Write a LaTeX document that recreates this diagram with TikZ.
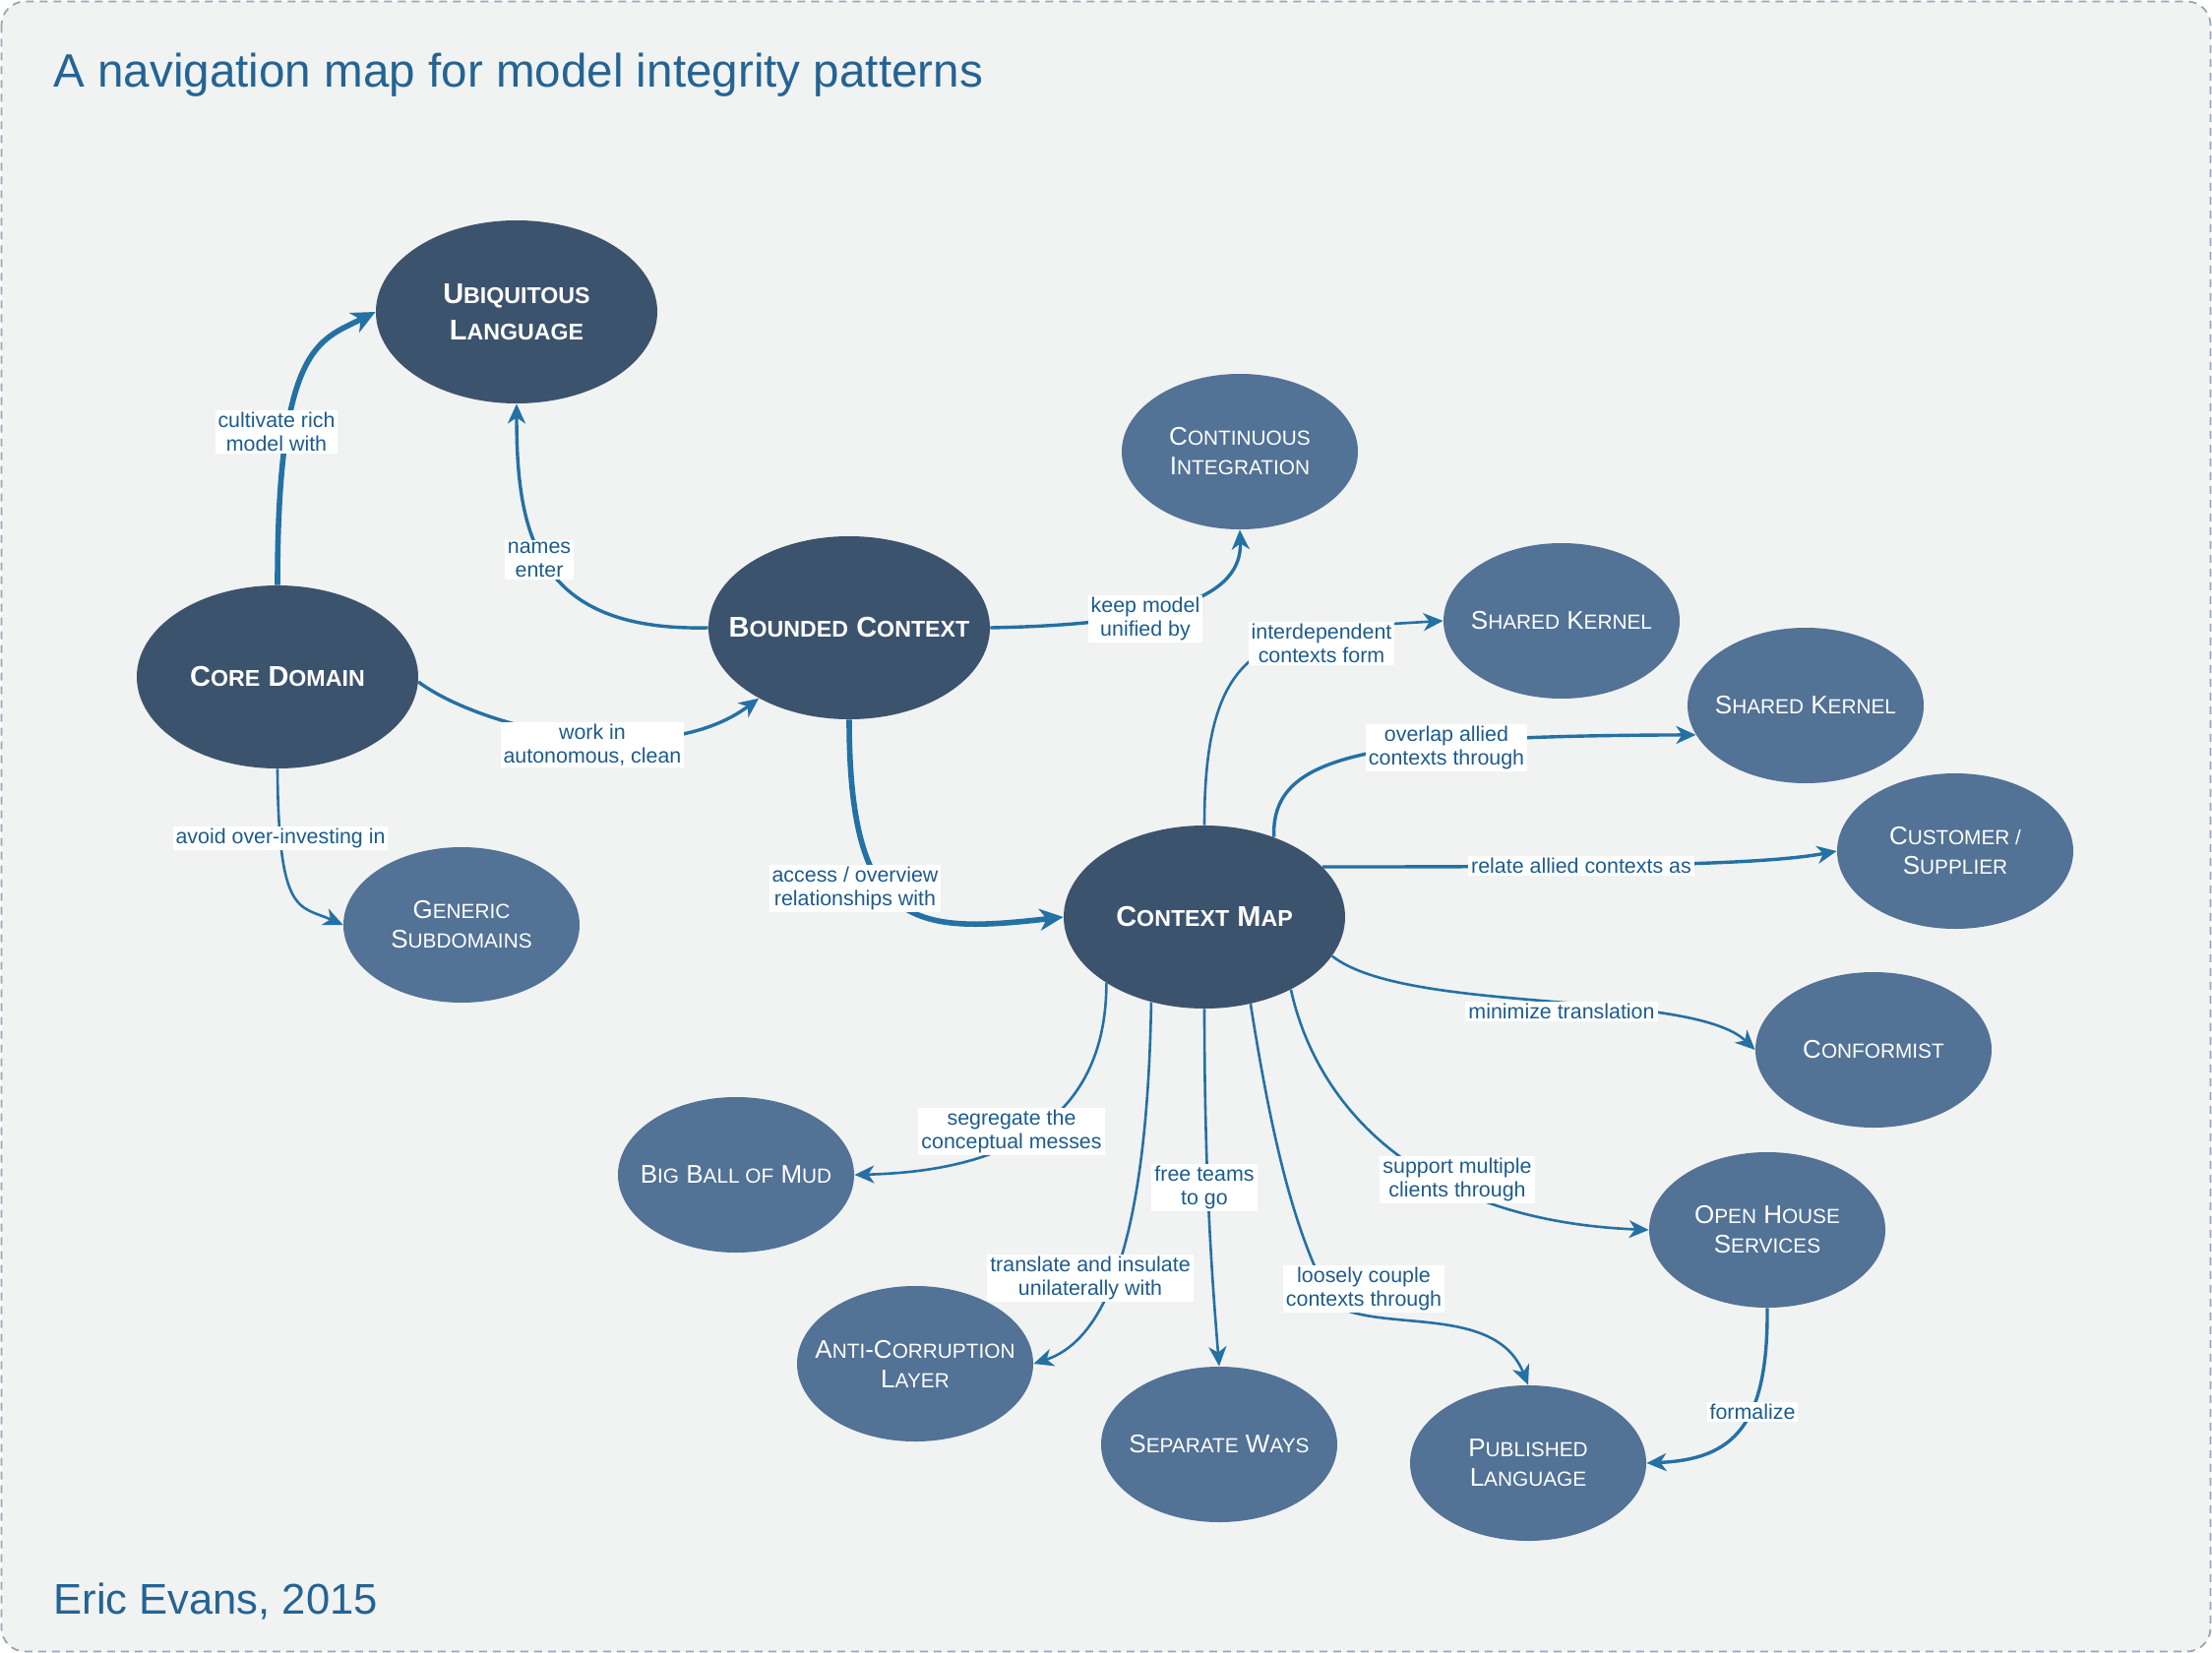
\documentclass[tikz,border=0pt]{standalone}
\usepackage{fontspec}
\setmainfont{Liberation Sans}
\usetikzlibrary{shapes.geometric,arrows.meta,calc}
\definecolor{bgc}{HTML}{F1F2F2}
\definecolor{bordc}{HTML}{9AA6B2}
\definecolor{darkn}{HTML}{3C536D}
\definecolor{lightn}{HTML}{527296}
\definecolor{edgec}{HTML}{2471A3}
\definecolor{lblc}{HTML}{1D5C8B}
\definecolor{titlec}{HTML}{236494}
\newcommand\dsc[1]{{\fontsize{11.6}{14}\selectfont #1}}
\newcommand\lsc[1]{{\fontsize{10.4}{12}\selectfont #1}}
\begin{document}
\begin{tikzpicture}[x=0.5pt,y=-0.5pt,
 darknode/.style={ellipse, fill=darkn, text=white, minimum width=143pt, minimum height=93pt, inner xsep=-30pt, inner ysep=-10pt, align=center, font=\bfseries\fontsize{14.5}{18.6}\selectfont},
 lightnode/.style={ellipse, fill=lightn, text=white, minimum width=120pt, minimum height=79pt, inner xsep=-30pt, inner ysep=-10pt, align=center, font=\fontsize{13}{15}\selectfont},
 conn/.style={draw=edgec, line width=1.3pt, -{Stealth[length=10pt,width=9pt,inset=3pt]}},
 medconn/.style={conn, line width=1.7pt},
 thickconn/.style={draw=edgec, line width=2.8pt, -{Stealth[length=12pt,width=11pt,inset=3.5pt]}},
 lbl/.style={fill=white, text=lblc, font=\fontsize{10.7}{12.2}\selectfont, align=center, inner xsep=1.5pt, inner ysep=1pt}
]
\useasboundingbox (0,0) rectangle (2248,1680);
\fill[white] (0,0) rectangle (2248,1680);
\draw[bordc, dashed, dash pattern=on 4pt off 3pt, line width=0.9pt, rounded corners=12pt, fill=bgc] (1.5,1.5) rectangle (2246.5,1678.5);

\node[anchor=base west, text=titlec, font=\fontsize{23.8}{28}\selectfont, inner sep=0pt] (title) at (54,89) {A navigation map for model integrity patterns};
\node[anchor=base west, text=titlec, font=\fontsize{21.8}{26}\selectfont, inner sep=0pt] (author) at (54,1640) {Eric Evans, 2015};

% nodes
\node[darknode] (UL) at (525,317) {U\dsc{BIQUITOUS}\\L\dsc{ANGUAGE}};
\node[darknode] (CD) at (282,688) {C\dsc{ORE} D\dsc{OMAIN}};
\node[darknode] (BC) at (863,638) {B\dsc{OUNDED} C\dsc{ONTEXT}};
\node[darknode] (CM) at (1224,932) {C\dsc{ONTEXT} M\dsc{AP}};
\node[lightnode] (CI) at (1260,459) {C\lsc{ONTINUOUS}\\I\lsc{NTEGRATION}};
\node[lightnode] (SK1) at (1587,631) {S\lsc{HARED} K\lsc{ERNEL}};
\node[lightnode] (SK2) at (1835,717) {S\lsc{HARED} K\lsc{ERNEL}};
\node[lightnode] (CS) at (1987,865) {C\lsc{USTOMER /}\\S\lsc{UPPLIER}};
\node[lightnode] (CF) at (1904,1067) {C\lsc{ONFORMIST}};
\node[lightnode] (OHS) at (1796,1250) {O\lsc{PEN} H\lsc{OUSE}\\S\lsc{ERVICES}};
\node[lightnode] (PL) at (1553,1487) {P\lsc{UBLISHED}\\L\lsc{ANGUAGE}};
\node[lightnode] (SW) at (1239,1468) {S\lsc{EPARATE} W\lsc{AYS}};
\node[lightnode] (ACL) at (930,1386) {A\lsc{NTI}-C\lsc{ORRUPTION}\\L\lsc{AYER}};
\node[lightnode] (BBM) at (748,1194) {B\lsc{IG} B\lsc{ALL OF} M\lsc{UD}};
\node[lightnode] (GS) at (469,940) {G\lsc{ENERIC}\\S\lsc{UBDOMAINS}};

% connectors
\draw[thickconn] (CD.north) .. controls ($(CD.north)+(0,-245)$) and ($(UL.west)+(-57,29)$) .. (UL.west);
\draw[medconn] (BC.west) .. controls ($(BC.west)+(-175,4)$) and ($(UL.south)+(0,132)$) .. (UL.south);
\draw[medconn] (CD.-2) .. controls ($(CD.-2)+(63,47)$) and ($(BC.-142)+(-100,75)$) .. (BC.-142);
\draw[medconn] (BC.east) .. controls ($(BC.east)+(155,-3)$) and ($(CI.south)+(3,76)$) .. (CI.south);
\draw[thickconn] (BC.south) .. controls ($(BC.south)+(0,215)$) and ($(CM.west)+(-150,17)$) .. (CM.west);
\draw[conn] (CD.south) .. controls ($(CD.south)+(1,150)$) and ($(GS.west)+(-45,-20)$) .. (GS.west);
\draw[conn] (CM.north) .. controls ($(CM.north)+(0,-194)$) and ($(SK1.west)+(-176,10)$) .. (SK1.west);
\draw[medconn] (CM.49) .. controls ($(CM.49)+(-3,-82)$) and ($(SK2.195)+(-341,1)$) .. (SK2.195);
\draw[medconn] (CM.23) .. controls ($(CM.23)+(300,0)$) and ($(CS.west)+(-75,14)$) .. (CS.west);
\draw[conn] (CM.-17) .. controls ($(CM.-17)+(77,60)$) and ($(CF.west)+(-65,-62)$) .. (CF.west);
\draw[conn] (CM.-40) .. controls ($(CM.-40)+(24,110)$) and ($(OHS.west)+(-244,-10)$) .. (OHS.west);
\coordinate (jm) at (1355,1326);
\draw[conn] (CM.-62) .. controls ($(CM.-62)+(24,153)$) and ($(jm)+(-36,-65)$) .. (jm) .. controls ($(jm)+(50,29)$) and ($(PL.north)+(-33,-83)$) .. (PL.north);
\draw[conn] (CM.south) .. controls ($(CM.south)+(0,180)$) and ($(SW.north)+(-6,-75)$) .. (SW.north);
\draw[conn] (CM.-122) .. controls ($(CM.-122)+(-4,226)$) and ($(ACL.east)+(79,-26)$) .. (ACL.east);
\draw[conn] (CM.-146) .. controls ($(CM.-146)+(0,133)$) and ($(BBM.east)+(163,-4)$) .. (BBM.east);
\draw[medconn] (OHS.south) .. controls ($(OHS.south)+(1,119)$) and ($(PL.east)+(89,-4)$) .. (PL.east);

% labels
\node[lbl] (l1) at (281,439) {cultivate rich\\model with};
\node[lbl] (l2) at (548,569) {names\\enter};
\node[lbl] (l3) at (602,757) {work in\\autonomous, clean};
\node[lbl] (l4) at (1164,629) {keep model\\unified by};
\node[lbl] (l5) at (1343,654) {interdependent\\contexts form};
\node[lbl] (l6) at (1470,760) {overlap allied\\contexts through};
\node[lbl] (l7) at (1607,880) {relate allied contexts as};
\node[lbl] (l8) at (1587,1028) {minimize translation};
\node[lbl] (l9) at (1481,1199) {support multiple\\clients through};
\node[lbl] (l10) at (1386,1310) {loosely couple\\contexts through};
\node[lbl] (l11) at (1224,1207) {free teams\\to go};
\node[lbl] (l12) at (1108,1299) {translate and insulate\\unilaterally with};
\node[lbl] (l13) at (1028,1150) {segregate the\\conceptual messes};
\node[lbl] (l14) at (869,903) {access / overview\\relationships with};
\node[lbl] (l15) at (285,852) {avoid over-investing in};
\node[lbl] (l16) at (1781,1435) {formalize};
\end{tikzpicture}
\end{document}
